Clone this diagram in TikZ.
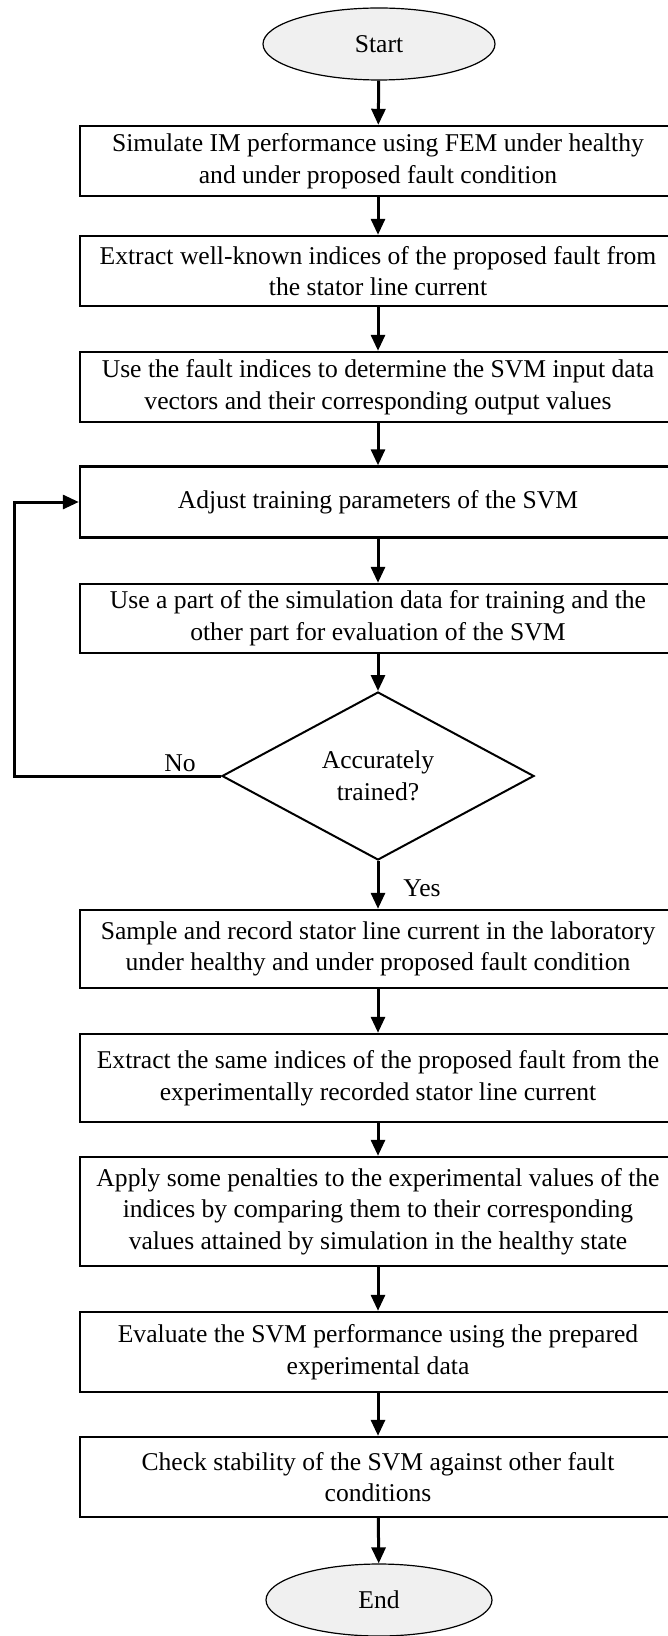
\documentclass[tikz,border=0pt]{standalone}
\usepackage{fontspec}
\setmainfont{Liberation Serif}
\usetikzlibrary{shapes.geometric,arrows.meta}
\definecolor{termgray}{RGB}{240,240,240}

\begin{document}
\begin{tikzpicture}[
    x=0.5pt, y=-0.5pt,
    every node/.style={font=\fontsize{12.8}{15.8}\selectfont},
    process/.style={draw, line width=1.2pt, minimum width=298pt, align=center, inner sep=2pt},
    terminal/.style={draw, ellipse, fill=termgray, line width=0.6pt, minimum width=116pt, minimum height=36pt},
    decision/.style={draw, diamond, line width=1pt, minimum width=156pt, minimum height=84pt, inner sep=0pt, align=center},
    arrow/.style={line width=1.5pt, -{Triangle[length=8pt,width=7pt]}},
    answer/.style={inner sep=0pt}
]
\useasboundingbox (0,0) rectangle (668,1636);
\clip (0,0) rectangle (668,1636);

% Terminals and steps
\node[terminal] (start) at (379, 44) {Start};

\node[process, minimum height=35pt] (simfem) at (378, 161)
    {Simulate IM performance using FEM under healthy\\ and under proposed fault condition};

\node[process, minimum height=35pt] (extract) at (378, 271)
    {Extract well-known indices of the proposed fault from\\ the stator line current};

\node[process, minimum height=35pt] (inputs) at (378, 387)
    {Use the fault indices to determine the SVM input data\\ vectors and their corresponding output values};

\node[process, minimum height=35.5pt] (adjust) at (378, 502)
    {Adjust training parameters of the SVM};

\node[process, minimum height=34.5pt] (split) at (378, 618.5)
    {Use a part of the simulation data for training and the\\ other part for evaluation of the SVM};

\node[decision] (check) at (378, 776) {Accurately\\ trained?};

\node[process, minimum height=39pt] (sample) at (378, 949)
    {Sample and record stator line current in the laboratory\\ under healthy and under proposed fault condition};

\node[process, minimum height=44pt] (expidx) at (378, 1078)
    {Extract the same indices of the proposed fault from the\\ experimentally recorded stator line current};

\node[process, minimum height=54.5pt] (penalty) at (378, 1211.5)
    {Apply some penalties to the experimental values of the\\ indices by comparing them to their corresponding\\ values attained by simulation in the healthy state};

\node[process, minimum height=40pt] (evaluate) at (378, 1352)
    {Evaluate the SVM performance using the prepared\\ experimental data};

\node[process, minimum height=40pt] (stability) at (378, 1477)
    {Check stability of the SVM against other fault\\ conditions};

\node[terminal, minimum width=113pt] (finish) at (379, 1600) {End};

% Labels
\node[answer] (nolbl) at (180, 763) {No};
\node[answer] (yeslbl) at (422, 888) {Yes};

% Flow
\draw[arrow] (start) -- (simfem);
\draw[arrow] (simfem) -- (extract);
\draw[arrow] (extract) -- (inputs);
\draw[arrow] (inputs) -- (adjust);
\draw[arrow] (adjust) -- (split);
\draw[arrow] (split) -- (check);
\draw[arrow] (check) -- (sample);
\draw[arrow] (sample) -- (expidx);
\draw[arrow] (expidx) -- (penalty);
\draw[arrow] (penalty) -- (evaluate);
\draw[arrow] (evaluate) -- (stability);
\draw[arrow] (stability) -- (finish);

% Loop back
\coordinate (loop) at (14, 776);
\draw[arrow] (check.west) -- (loop) |- (adjust.west);

\end{tikzpicture}
\end{document}
